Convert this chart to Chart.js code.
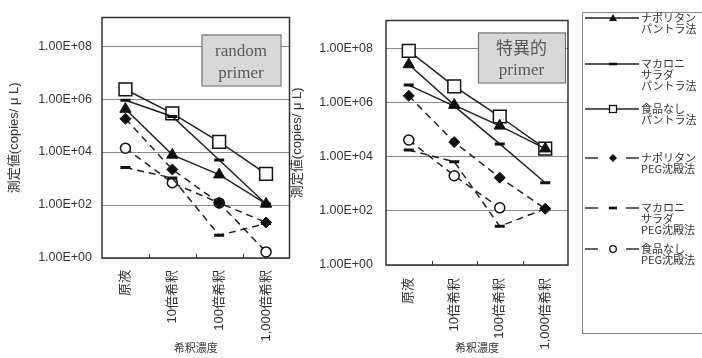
<!DOCTYPE html>
<html><head><meta charset="utf-8">
<script src="https://cdn.jsdelivr.net/npm/chart.js@4"></script>
<style>
html,body{margin:0;padding:0;background:#fff;width:702px;height:358px;overflow:hidden;position:relative;font-family:"Noto Sans CJK JP","Liberation Sans",sans-serif;}
#c1{position:absolute;left:0;top:0;}
#c2{position:absolute;left:290px;top:0;}
#legend{position:absolute;left:582px;top:12px;width:140px;height:322px;border:1px solid #888;box-sizing:border-box;background:#fff;}
.lt{position:absolute;left:58px;font-size:11px;line-height:11px;color:#333;white-space:nowrap;}
.ls{position:absolute;left:2px;}
</style></head>
<body>
<canvas id="c1" width="300" height="358"></canvas>
<canvas id="c2" width="290" height="358"></canvas>
<div id="legend"></div>
<script>
// ---- data ----
const categories = ["原液", "10倍希釈", "100倍希釈", "1,000倍希釈"];
const yTickValues = [1, 1e2, 1e4, 1e6, 1e8];
const seriesNames = [
  ["ナポリタン", "パントラ法"],
  ["マカロニ", "サラダ", "パントラ法"],
  ["食品なし", "パントラ法"],
  ["ナポリタン", "PEG沈殿法"],
  ["マカロニ", "サラダ", "PEG沈殿法"],
  ["食品なし", "PEG沈殿法"]
];
// random primer
const randomNapPan  = [4.2e5, 7.8e3, 1.4e3, 1.1e2];
const randomMacPan  = [9.0e5, 2.2e5, 5.0e3, 1.1e2];
const randomNonePan = [2.3e6, 2.9e5, 2.4e4, 1.5e3];
const randomNapPeg  = [1.8e5, 2.2e3, 1.2e2, 22];
const randomMacPeg  = [2.6e3, 1.05e3, 7.2, 20];
const randomNonePeg = [1.4e4, 690, 1.2e2, 1.7];
// 特異的 primer
const specNapPan  = [2.6e7, 8.2e5, 1.4e5, 2.0e4];
const specMacPan  = [4.5e6, 7.5e5, 3.0e4, 1.1e3];
const specNonePan = [8.3e7, 4.0e6, 3.1e5, 2.0e4];
const specNapPeg  = [1.8e6, 3.5e4, 1.7e3, 1.2e2];
const specMacPeg  = [1.8e4, 6.6e3, 27, 1.2e2];
const specNonePeg = [4.2e4, 2.0e3, 1.3e2, null];

const panelTitles = [["random", "primer"], ["特異的", "primer"]];
const yTitle = "測定値(copies/ μ L)";
const xTitle = "希釈濃度";

// ---- styles ----
const styles = [
  {ps: 'triangle', r: 6.5, fill: '#111', bw: 1, dash: []},
  {ps: 'line', r: 5, fill: '#111', bw: 3, dash: []},
  {ps: 'rect', r: 9, fill: '#fff', bw: 1.5, dash: []},
  {ps: 'rectRot', r: 5.5, fill: '#111', bw: 1, dash: [7, 5]},
  {ps: 'line', r: 5, fill: '#111', bw: 3, dash: [7, 5]},
  {ps: 'circle', r: 5, fill: '#fff', bw: 1.5, dash: [7, 5]}
];

Chart.defaults.font.family = '"Liberation Sans","Noto Sans CJK JP",sans-serif';
Chart.defaults.color = '#333';

function fmtE(v) {
  const e = Math.round(Math.log10(v));
  return '1.00E+' + String(e).padStart(2, '0');
}

function makeDatasets(values) {
  return values.map((data, i) => ({
    label: seriesNames[i].join(''),
    data: data,
    borderColor: '#222',
    borderWidth: 1.5,
    borderDash: styles[i].dash,
    pointStyle: styles[i].ps,
    pointRadius: styles[i].r,
    pointHoverRadius: styles[i].r,
    pointBackgroundColor: styles[i].fill,
    pointBorderColor: '#111',
    pointBorderWidth: styles[i].bw,
    fill: false,
    tension: 0,
    spanGaps: false
  }));
}

const framePlugin = {
  id: 'frame',
  beforeDatasetsDraw(chart) {
    const {ctx, chartArea: a} = chart;
    ctx.save();
    ctx.strokeStyle = '#333';
    ctx.lineWidth = 1.5;
    ctx.strokeRect(a.left, a.top, a.right - a.left, a.bottom - a.top);
    const xs = chart.scales.x;
    ctx.lineWidth = 1;
    for (let i = 1; i < categories.length; i++) {
      const x = Math.round((xs.getPixelForTick(i - 1) + xs.getPixelForTick(i)) / 2) + 0.5;
      ctx.beginPath();
      ctx.moveTo(x, a.bottom);
      ctx.lineTo(x, a.bottom - 4);
      ctx.stroke();
    }
    ctx.restore();
  },
  afterDraw(chart, args, opts) {
    const {ctx, chartArea: a} = chart;
    const bx = a.right - opts.right - opts.w, by = a.top + opts.top;
    ctx.save();
    ctx.fillStyle = '#d8d8d8';
    ctx.strokeStyle = '#777';
    ctx.lineWidth = 1.2;
    ctx.fillRect(bx, by, opts.w, opts.h);
    ctx.strokeRect(bx + 0.5, by + 0.5, opts.w, opts.h);
    ctx.fillStyle = '#5a5a5a';
    ctx.textAlign = 'center';
    ctx.textBaseline = 'middle';
    ctx.font = '17px "Liberation Serif","Noto Sans CJK JP",serif';
    opts.lines.forEach((t, k) => ctx.fillText(t, bx + opts.w / 2, by + opts.ly[k]));
    ctx.restore();
  }
};

function makeChart(id, values, cfg) {
  return new Chart(document.getElementById(id), {
    type: 'line',
    data: {labels: categories, datasets: makeDatasets(values)},
    plugins: [framePlugin],
    options: {
      responsive: false,
      animation: false,
      devicePixelRatio: 1,
      layout: {padding: {left: 0, right: cfg.padRight, top: cfg.padTop, bottom: 0}},
      plugins: {
        legend: {display: false},
        tooltip: {enabled: false},
        frame: cfg.box
      },
      scales: {
        x: {
          type: 'category',
          offset: true,
          afterFit: s => { s.height = cfg.xHeight; },
          ticks: {minRotation: 90, maxRotation: 90, autoSkip: false, padding: cfg.xPad,
                  font: {size: 13}, color: '#333'},
          grid: {display: false, drawTicks: false},
          border: {display: false},
          title: {display: true, text: xTitle, font: {size: 11}, color: '#333', padding: {top: 0, bottom: 2}}
        },
        y: {
          type: 'logarithmic',
          min: 1,
          max: cfg.yMax,
          afterBuildTicks: s => { s.ticks = yTickValues.map(v => ({value: v})); },
          afterFit: s => { s.width = cfg.yWidth; },
          ticks: {callback: v => fmtE(v), font: {size: 12.5}, color: '#333', padding: cfg.yPad},
          grid: {color: '#8a8a8a', lineWidth: 1, drawTicks: false},
          border: {display: false},
          title: {display: true, text: yTitle, font: {size: 13}, color: '#333', padding: {top: cfg.yTitlePad, bottom: 0}}
        }
      }
    }
  });
}

makeChart('c1', [randomNapPan, randomMacPan, randomNonePan, randomNapPeg, randomMacPeg, randomNonePeg], {
  padRight: 10, padTop: 14, xHeight: 100, yWidth: 102, yMax: 1.2e9, xPad: 12, yPad: 10, yTitlePad: 7,
  box: {lines: panelTitles[0], right: 9, top: 17, w: 79, h: 51, ly: [17, 39]}
});
makeChart('c2', [specNapPan, specMacPan, specNonePan, specNapPeg, specMacPeg, specNonePeg], {
  padRight: 12, padTop: 13, xHeight: 93, yWidth: 96, yMax: 1.1e9, xPad: 13, yPad: 13, yTitlePad: 0,
  box: {lines: panelTitles[1], right: 3, top: 12, w: 87, h: 50, ly: [17, 38]}
});

// ---- HTML legend ----
const legendRowsY = [17, 63, 108, 157, 207, 248];
const legend = document.getElementById('legend');
function markerSvg(i) {
  const s = styles[i];
  const cx = 28, cy = 6;
  let line = s.dash.length
    ? `<line x1="0" y1="${cy}" x2="13" y2="${cy}" stroke="#222" stroke-width="1.4"/><line x1="41" y1="${cy}" x2="54" y2="${cy}" stroke="#222" stroke-width="1.4"/>`
    : `<line x1="0" y1="${cy}" x2="54" y2="${cy}" stroke="#222" stroke-width="1.4"/>`;
  let m = '';
  if (s.ps === 'triangle') m = `<polygon points="${cx},${cy-4} ${cx+4},${cy+3} ${cx-4},${cy+3}" fill="#111"/>`;
  else if (s.ps === 'line') m = `<line x1="${cx-4}" y1="${cy}" x2="${cx+4}" y2="${cy}" stroke="#111" stroke-width="2.6"/>`;
  else if (s.ps === 'rect') m = `<rect x="${cx-3.5}" y="${cy-3.5}" width="7" height="7" fill="#fff" stroke="#111" stroke-width="1.3"/>`;
  else if (s.ps === 'rectRot') m = `<polygon points="${cx},${cy-4} ${cx+4},${cy} ${cx},${cy+4} ${cx-4},${cy}" fill="#111"/>`;
  else if (s.ps === 'circle') m = `<circle cx="${cx}" cy="${cy}" r="3.3" fill="#fff" stroke="#111" stroke-width="1.3"/>`;
  return `<svg class="ls" width="56" height="12" style="top:${legendRowsY[i]-12-6}px">${line}${m}</svg>`;
}
seriesNames.forEach((lines, i) => {
  legend.insertAdjacentHTML('beforeend', markerSvg(i));
  const d = document.createElement('div');
  d.className = 'lt';
  d.style.top = (legendRowsY[i] - 12 - 6) + 'px';
  d.innerHTML = lines.join('<br>');
  legend.appendChild(d);
});
</script>
</body></html>
